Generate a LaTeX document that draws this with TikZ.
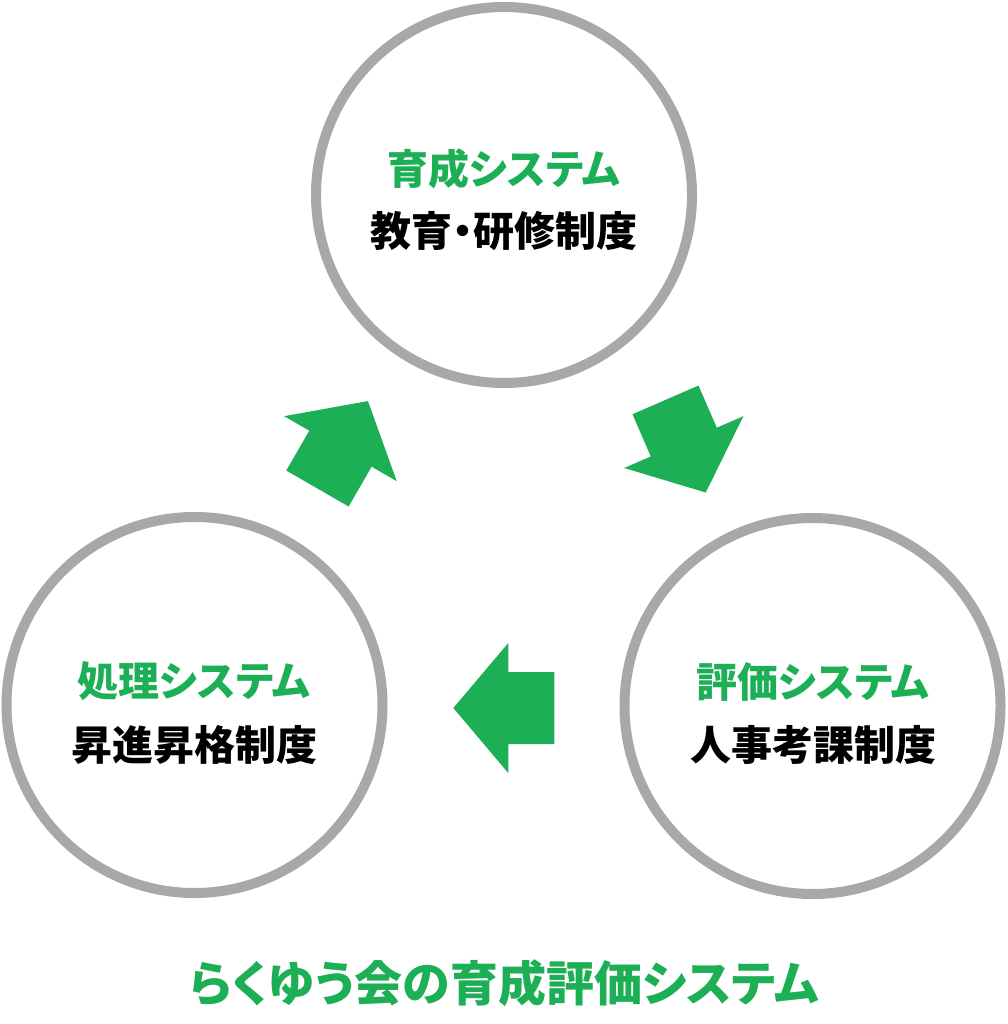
\documentclass[tikz,border=0pt]{standalone}
\usepackage{fontspec}
\newfontfamily\cjk{Noto Sans CJK JP}[RawFeature=+palt]
\definecolor{rgreen}{RGB}{29,175,85}
\definecolor{rgray}{RGB}{168,168,168}
\tikzset{
  syscircle/.style={circle, draw=rgray, line width=10pt, minimum size=376pt, inner sep=0pt},
  headtext/.style={anchor=base, text=rgreen, font=\cjk\bfseries\fontsize{41}{44}\selectfont, inner sep=0pt},
  subtext/.style={anchor=base, text=black, font=\cjk\bfseries\fontsize{41}{44}\selectfont, inner sep=0pt},
  titletext/.style={anchor=base, text=rgreen, font=\cjk\bfseries\fontsize{48}{50}\selectfont, inner sep=0pt},
  blockarrow/.pic={
    \fill[rgreen] (-50.5,-36) -- (-4.5,-36) -- (-4.5,-65) -- (50.5,0) -- (-4.5,65) -- (-4.5,36) -- (-50.5,36) -- cycle;
  }
}
\begin{document}
\begin{tikzpicture}[x=1pt, y=-1pt]
\useasboundingbox (0,0) rectangle (1007,1024);
% circles
\node[syscircle] (top) at (504,195) {};
\node[syscircle] (left) at (194.5,705) {};
\node[syscircle] (right) at (812.5,706) {};
% texts
\node[headtext] (topA) at (504,185) {育成システム};
\node[subtext] (topB) at (504,246.5) {教育・研修制度};
\node[headtext] (leftA) at (194,696.5) {処理システム};
\node[subtext] (leftB) at (194,760.5) {昇進昇格制度};
\node[headtext] (rightA) at (813,697) {評価システム};
\node[subtext] (rightB) at (813,760.5) {人事考課制度};
\node[titletext] (title) at (504.5,1001) {らくゆう会の育成評価システム};
% arrows
\pic[shift={(342.7,444.8)}, rotate=60] {blockarrow};
\pic[shift={(685.6,446.2)}, rotate=-66.5] {blockarrow};
\pic[shift={(503.8,708)}, rotate=180] {blockarrow};
\end{tikzpicture}
\end{document}
